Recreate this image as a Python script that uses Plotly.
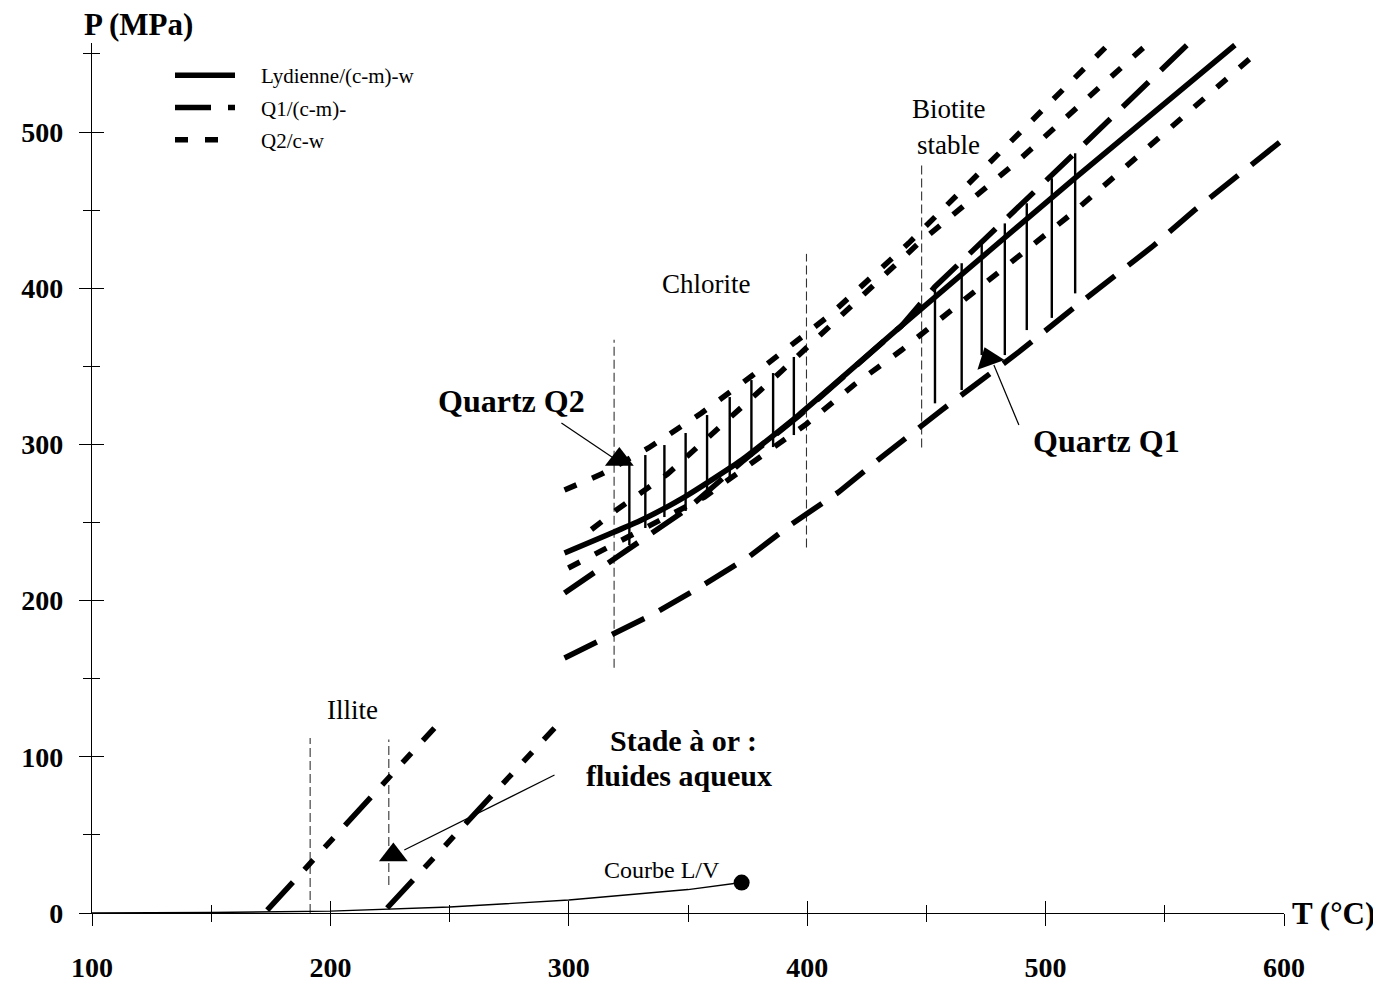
import plotly.graph_objects as go

FONT = "Liberation Serif"

# ---------------- data ----------------
x_major = [100, 200, 300, 400, 500, 600]
y_major = [0, 100, 200, 300, 400, 500]

# Lydienne/(c-m)-w isochore (solid)
lyd_T = [298.2, 330.5, 348.5, 372.5, 396.4, 439.6, 512.3, 579.4]
lyd_P = [230.5, 251.6, 266.3, 290.0, 318.8, 376.0, 470.5, 555.7]

# Q1/(c-m)- isochores (long dash)
q1a_T = [298.2, 330.5, 350.2, 372.5, 396.4, 439.6, 453.5, 512.3, 559.3]
q1a_P = [204.9, 238.8, 259.3, 288.7, 318.1, 376.0, 400.8, 486.6, 555.7]
q1b_T = [298.2, 334.7, 354.4, 375.4, 393.5, 413.2, 431.2, 456.4, 488.8, 512.3, 544.6, 562.6, 598.3]
q1b_P = [163.3, 190.8, 208.1, 227.9, 249.0, 269.5, 291.9, 322.0, 359.2, 388.0, 426.4, 450.1, 493.6]

# Q2/c-w isochores (short dash)
q2a_T = [298.2, 313.7, 333.4, 355.7, 376.7, 409.0, 442.6, 481.6, 526.1]
q2a_P = [270.8, 281.0, 297.7, 320.1, 343.8, 382.2, 428.9, 488.5, 555.7]
q2b_T = [309.5, 320.0, 341.4, 361.1, 379.6, 389.3, 446.8, 487.9, 541.0]
q2b_P = [245.5, 258.0, 281.0, 308.6, 334.2, 347.0, 428.9, 480.8, 554.0]
q2c_T = [299.8, 356.9, 377.9, 399.7, 419.5, 439.6, 511.8, 551.7, 590.8]
q2c_P = [220.9, 266.3, 289.4, 313.1, 338.0, 360.4, 448.8, 501.3, 553.8]

# vertical P ranges (Quartz Q2 and Quartz Q1)
q2_bar_T = [325.4, 332.1, 340.1, 349.0, 358.0, 367.5, 376.6, 385.7, 394.4]
q2_bar_top = [286.8, 293.2, 299.6, 307.3, 318.8, 330.3, 341.2, 345.7, 356.0]
q2_bar_bot = [235.6, 246.5, 253.5, 257.4, 269.5, 277.2, 292.0, 298.3, 306.0]
q1_bar_T = [453.6, 464.8, 473.2, 482.9, 492.1, 502.6, 512.4]
q1_bar_top = [401.0, 416.0, 429.8, 441.5, 454.4, 470.4, 486.4]
q1_bar_bot = [326.3, 334.8, 357.2, 357.2, 373.2, 381.0, 396.7]

# gold stage (aqueous fluids) isochores
gold1_T = [173.5, 243.6]
gold1_P = [1.9, 118.4]
gold2_T = [223.8, 294.0]
gold2_P = [3.2, 118.4]

# mineral stability limits (thin dashed verticals)
min_T = [191.5, 224.5, 319.0, 399.7, 448.0]
min_Pbot = [0, 18, 157, 234, 298]
min_Ptop = [112, 111, 367, 422, 481]

# liquid/vapour curve and critical point
lv_T = [100, 150, 200, 250, 300, 350, 372.5]
lv_P = [0, 0.3, 1.2, 3.8, 8.3, 15.0, 19.5]
crit_T = [372.5]
crit_P = [19.5]

# pointer triangles and their leader lines
tri_T = [321.2, 476.2, 226.4]
tri_P = [290.4, 354.7, 37.1]
tri_angle = [0, -20, 0]
lead_q2_T = [296.9, 318.7]
lead_q2_P = [313.7, 291.3]
lead_q1_T = [488.8, 478.3]
lead_q1_P = [312.4, 350.8]
lead_au_T = [294.0, 231.0]
lead_au_P = [88.3, 40.3]

# text labels
lab_text = ["Illite", "Chlorite", "Biotite", "stable", "Courbe L/V"]
lab_T = [209.2, 357.8, 459.4, 459.4, 338.9]
lab_P = [130.0, 402.7, 514.7, 491.7, 27.5]
lab_size = [27, 27, 27, 27, 24]
blab_text = ["Quartz Q2", "Quartz Q1", "Stade à or :", "fluides aqueux"]
blab_T = [275.9, 525.7, 348.1, 346.4]
blab_P = [327.8, 302.2, 110.5, 88.0]
blab_size = [32, 32, 30, 30]

legend_names = ["Lydienne/(c-m)-w", "Q1/(c-m)-", "Q2/c-w"]

# ---------------- figure ----------------
Q1_DASH = "36px,17px"
Q2_DASH = "13px,17px"
AU_DASH = "38px,17px,13px,17px,13px,17px"
LW = 5.5
PAD = "\u00a0" * 4

def segs(xs, y0, y1):
    X, Y = [], []
    for x, a, b in zip(xs, y0, y1):
        X += [x, x, None]
        Y += [a, b, None]
    return X, Y

fig = go.Figure()

mx, my = segs(min_T, min_Pbot, min_Ptop)
fig.add_trace(go.Scatter(x=mx, y=my, mode="lines", showlegend=False,
                         line=dict(color="#333", width=1.1, dash="9px,4px")))

fig.add_trace(go.Scatter(x=lv_T, y=lv_P, mode="lines", showlegend=False,
                         line=dict(color="black", width=1.4)))
fig.add_trace(go.Scatter(x=crit_T, y=crit_P, mode="markers", showlegend=False,
                         marker=dict(color="black", size=16)))

bx, by = segs(q2_bar_T, q2_bar_bot, q2_bar_top)
fig.add_trace(go.Scatter(x=bx, y=by, mode="lines", showlegend=False,
                         line=dict(color="black", width=2.4)))
bx, by = segs(q1_bar_T, q1_bar_bot, q1_bar_top)
fig.add_trace(go.Scatter(x=bx, y=by, mode="lines", showlegend=False,
                         line=dict(color="black", width=2.4)))

fig.add_trace(go.Scatter(x=lyd_T, y=lyd_P, mode="lines", name=PAD + legend_names[0],
                         legendrank=1, line=dict(color="black", width=LW, shape="spline", smoothing=0.5)))
fig.add_trace(go.Scatter(x=q1a_T, y=q1a_P, mode="lines", name=PAD + legend_names[1], legendgroup="q1",
                         legendrank=2, line=dict(color="black", width=LW, dash=Q1_DASH)))
fig.add_trace(go.Scatter(x=q1b_T, y=q1b_P, mode="lines", legendgroup="q1", showlegend=False,
                         line=dict(color="black", width=LW, dash=Q1_DASH)))
fig.add_trace(go.Scatter(x=q2a_T, y=q2a_P, mode="lines", name=PAD + legend_names[2], legendgroup="q2",
                         legendrank=3, line=dict(color="black", width=LW, dash=Q2_DASH)))
fig.add_trace(go.Scatter(x=q2b_T, y=q2b_P, mode="lines", legendgroup="q2", showlegend=False,
                         line=dict(color="black", width=LW, dash=Q2_DASH)))
fig.add_trace(go.Scatter(x=q2c_T, y=q2c_P, mode="lines", legendgroup="q2", showlegend=False,
                         line=dict(color="black", width=LW, dash=Q2_DASH)))
fig.add_trace(go.Scatter(x=gold1_T, y=gold1_P, mode="lines", showlegend=False,
                         line=dict(color="black", width=LW, dash=AU_DASH)))
fig.add_trace(go.Scatter(x=gold2_T, y=gold2_P, mode="lines", showlegend=False,
                         line=dict(color="black", width=LW, dash=AU_DASH)))

for lt, lp in [(lead_q2_T, lead_q2_P), (lead_q1_T, lead_q1_P), (lead_au_T, lead_au_P)]:
    fig.add_trace(go.Scatter(x=lt, y=lp, mode="lines", showlegend=False,
                             line=dict(color="black", width=1.2)))
fig.add_trace(go.Scatter(x=tri_T, y=tri_P, mode="markers", showlegend=False,
                         marker=dict(symbol="triangle-up", size=25, color="black", angle=tri_angle)))

fig.add_trace(go.Scatter(x=[None], y=[None], xaxis="x2", yaxis="y2", showlegend=False))

for t, x, y, s in zip(lab_text, lab_T, lab_P, lab_size):
    fig.add_annotation(x=x, y=y, text=t, showarrow=False,
                       font=dict(family=FONT, size=s, color="black"))
for t, x, y, s in zip(blab_text, blab_T, blab_P, blab_size):
    fig.add_annotation(x=x, y=y, text=t, showarrow=False,
                       font=dict(family=FONT, size=s, color="black", weight="bold"))

L, R, T, B = 84, 105, 35, 79
W, H = 1381, 984
pw, ph = W - L - R, H - T - B
fig.add_annotation(xref="paper", yref="paper", x=(137 - 91) / pw, y=(913 - 25) / ph,
                   xanchor="center", yanchor="middle",
                   text="P (MPa)", showarrow=False,
                   font=dict(family=FONT, size=31, color="black", weight="bold"))
fig.add_annotation(xref="paper", yref="paper", x=(1289 - 91) / pw, y=0.0,
                   xanchor="left", yanchor="middle",
                   text="T (°C)", showarrow=False,
                   font=dict(family=FONT, size=31, color="black", weight="bold"))

XR = [100, 600]
YR = [0, 557]
tickfont = dict(family=FONT, size=28, color="black", weight="bold")
common = dict(showgrid=False, zeroline=False, tickcolor="black", tickwidth=1, automargin=False)

fig.update_layout(
    width=W, height=H,
    margin=dict(l=L, r=R, t=T, b=B),
    paper_bgcolor="white", plot_bgcolor="white",
    font=dict(family=FONT, color="black"),
    xaxis=dict(range=XR, tickvals=x_major, ticks="outside", ticklen=12,
               showline=True, linecolor="black", linewidth=1.2,
               tickfont=tickfont, ticklabelstandoff=17,
               minor=dict(dtick=50, ticks="outside", ticklen=8, tickcolor="black"), **common),
    yaxis=dict(range=YR, tickvals=y_major, ticks="outside", ticklen=12,
               showline=True, linecolor="black", linewidth=1.2,
               tickfont=tickfont, ticklabelstandoff=10,
               minor=dict(dtick=50, ticks="outside", ticklen=8, tickcolor="black"), **common),
    xaxis2=dict(range=XR, overlaying="x", anchor="y2", side="bottom", tickvals=x_major,
                ticks="inside", ticklen=12, showticklabels=False, showline=False,
                minor=dict(dtick=50, ticks="inside", ticklen=8, tickcolor="black"), **common),
    yaxis2=dict(range=YR, overlaying="y", anchor="x2", side="left", tickvals=y_major,
                ticks="inside", ticklen=12, showticklabels=False, showline=False,
                minor=dict(dtick=50, ticks="inside", ticklen=8, tickcolor="black"), **common),
    legend=dict(x=(169 - 91) / pw, y=(913 - 55) / ph, xanchor="left", yanchor="top",
                bgcolor="rgba(0,0,0,0)", font=dict(family=FONT, size=21, color="black"),
                itemwidth=60, tracegroupgap=2),
)

fig.write_html("out.html")
